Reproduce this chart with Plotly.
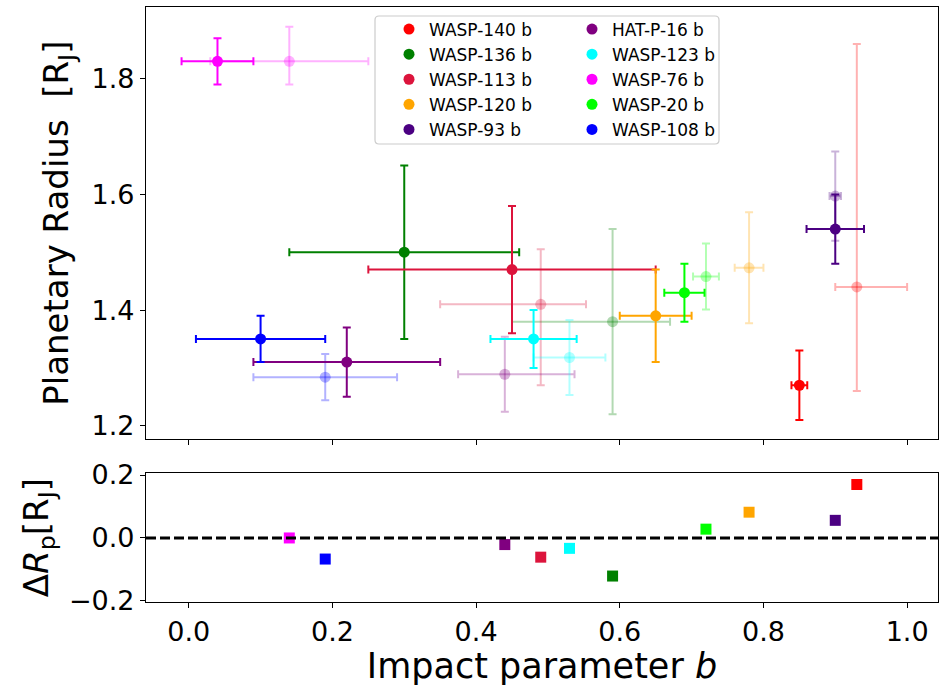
import plotly.graph_objects as go
from plotly.subplots import make_subplots

planets = ["WASP-140 b", "WASP-136 b", "WASP-113 b", "WASP-120 b", "WASP-93 b",
           "HAT-P-16 b", "WASP-123 b", "WASP-76 b", "WASP-20 b", "WASP-108 b"]
colors_rgb = [(255, 0, 0), (0, 128, 0), (220, 20, 60), (255, 165, 0), (75, 0, 130),
              (128, 0, 128), (0, 255, 255), (255, 0, 255), (0, 255, 0), (0, 0, 255)]

# this work
b = [0.85, 0.30, 0.45, 0.65, 0.90, 0.22, 0.48, 0.04, 0.69, 0.10]
b_err = [0.011, 0.16, 0.20, 0.05, 0.04, 0.13, 0.06, 0.05, 0.028, 0.09]
rp = [1.27, 1.50, 1.47, 1.39, 1.54, 1.31, 1.35, 1.83, 1.43, 1.35]
rp_err = [0.06, 0.15, 0.11, 0.08, 0.06, 0.06, 0.05, 0.04, 0.05, 0.04]

# literature
b_lit = [0.93, 0.59, 0.49, 0.78, 0.90, 0.44, 0.53, 0.14, 0.72, 0.19]
b_lit_err_plus = [0.07, 0.08, 0.063, 0.02, 0.008, 0.097, 0.05, 0.11, 0.018, 0.10]
b_lit_err_minus = [0.03, 0.14, 0.14, 0.02, 0.008, 0.065, 0.05, 0.11, 0.018, 0.10]
rp_lit = [1.44, 1.38, 1.41, 1.473, 1.597, 1.289, 1.318, 1.83, 1.458, 1.284]
rp_lit_err_plus = [0.42, 0.16, 0.095, 0.096, 0.077, 0.065, 0.065, 0.06, 0.057, 0.04]
rp_lit_err_minus = [0.18, 0.16, 0.14, 0.096, 0.077, 0.065, 0.065, 0.04, 0.057, 0.04]

# difference (literature - this work)
delta_rp = [0.17, -0.121, -0.061, 0.082, 0.056, -0.021, -0.033, 0.0, 0.028, -0.067]

x_ticks = [0.0, 0.2, 0.4, 0.6, 0.8, 1.0]
y_ticks_top = [1.2, 1.4, 1.6, 1.8]
y_ticks_bot = [-0.2, 0.0, 0.2]

FONT = "DejaVu Sans"


def rgba(c, a):
    return "rgba(%d,%d,%d,%s)" % (c[0], c[1], c[2], a)


fig = make_subplots(rows=2, cols=1)

# literature (faded)
for i, name in enumerate(planets):
    c = rgba(colors_rgb[i], 0.3)
    fig.add_trace(go.Scatter(
        x=[b_lit[i]], y=[rp_lit[i]], mode="markers",
        marker=dict(color=c, size=11, line=dict(width=0)),
        error_x=dict(type="data", symmetric=False, array=[b_lit_err_plus[i]],
                     arrayminus=[b_lit_err_minus[i]], color=c, thickness=2, width=4),
        error_y=dict(type="data", symmetric=False, array=[rp_lit_err_plus[i]],
                     arrayminus=[rp_lit_err_minus[i]], color=c, thickness=2, width=4),
        showlegend=False, hoverinfo="skip"), row=1, col=1)

# this work
for i, name in enumerate(planets):
    c = rgba(colors_rgb[i], 1)
    fig.add_trace(go.Scatter(
        x=[b[i]], y=[rp[i]], mode="markers", name=name,
        marker=dict(color=c, size=11, line=dict(width=0)),
        error_x=dict(type="data", array=[b_err[i]], color=c, thickness=2, width=4),
        error_y=dict(type="data", array=[rp_err[i]], color=c, thickness=2, width=4),
        legend="legend" if i < 5 else "legend2"), row=1, col=1)

# delta panel
for i, name in enumerate(planets):
    fig.add_trace(go.Scatter(
        x=[b_lit[i]], y=[delta_rp[i]], mode="markers",
        marker=dict(symbol="square", color=rgba(colors_rgb[i], 1), size=11,
                    line=dict(width=0)),
        showlegend=False), row=2, col=1)

fig.add_hline(y=0, line=dict(color="black", width=3, dash="10px,4px"), row=2, col=1)

axis_common = dict(showline=True, mirror=True, linecolor="black", linewidth=1.2,
                   ticks="outside", ticklen=5, tickwidth=1.2, tickcolor="black",
                   showgrid=False, zeroline=False, automargin=False,
                   tickfont=dict(family=FONT, size=27, color="black"))

fig.update_xaxes(**axis_common, range=[-0.0595, 1.043], tickvals=x_ticks, tickformat=".1f")
fig.update_xaxes(showticklabels=False, row=1, col=1)
fig.update_xaxes(row=2, col=1, title=dict(
    text="Impact parameter <i>b</i>", font=dict(family=FONT, size=35, color="black"),
    standoff=6))

fig.update_yaxes(**axis_common)
fig.update_yaxes(row=1, col=1, range=[1.1765, 1.924], tickvals=y_ticks_top,
                 tickformat=".1f", domain=[0.2734, 1.0],
                 title=dict(text="Planetary Radius  [R<sub>J</sub>]",
                            font=dict(family=FONT, size=34, color="black"), standoff=12))
fig.update_yaxes(row=2, col=1, range=[-0.2035, 0.2055], tickvals=y_ticks_bot,
                 tickformat=".1f", domain=[0.0, 0.2163],
                 title=dict(text="Δ<i>R</i><sub>p</sub>[R<sub>J</sub>]",
                            font=dict(family=FONT, size=34, color="black"), standoff=10))

# legend frame
W, H = 792.0, 595.0
x0, x1 = (375 - 146) / W, (719 - 146) / W
y0, y1 = (602 - 144) / H, (602 - 16) / H
rx, ry = 4 / W, 4 / H
path = ("M %f,%f L %f,%f Q %f,%f %f,%f L %f,%f Q %f,%f %f,%f L %f,%f Q %f,%f %f,%f "
        "L %f,%f Q %f,%f %f,%f Z") % (
    x0 + rx, y0, x1 - rx, y0, x1, y0, x1, y0 + ry, x1, y1 - ry, x1, y1, x1 - rx, y1,
    x0 + rx, y1, x0, y1, x0, y1 - ry, x0, y0 + ry, x0, y0, x0 + rx, y0)
fig.add_shape(type="path", path=path, xref="paper", yref="paper",
              line=dict(color="#cccccc", width=1.2), fillcolor="rgba(255,255,255,0.8)",
              layer="above")

legend_common = dict(font=dict(family=FONT, size=17, color="black"),
                     bgcolor="rgba(0,0,0,0)", borderwidth=0, yanchor="top",
                     xanchor="left", itemwidth=30, tracegroupgap=0)
fig.update_layout(
    legend=dict(**legend_common, x=(389 - 146) / W, y=(602 - 11.5) / H),
    legend2=dict(**legend_common, x=(572 - 146) / W, y=(602 - 11.5) / H),
)

fig.update_layout(width=939, height=686, margin=dict(l=146, r=1, t=7, b=84),
                  plot_bgcolor="white", paper_bgcolor="white",
                  font=dict(family=FONT, color="black"))

fig.write_html("out.html")
